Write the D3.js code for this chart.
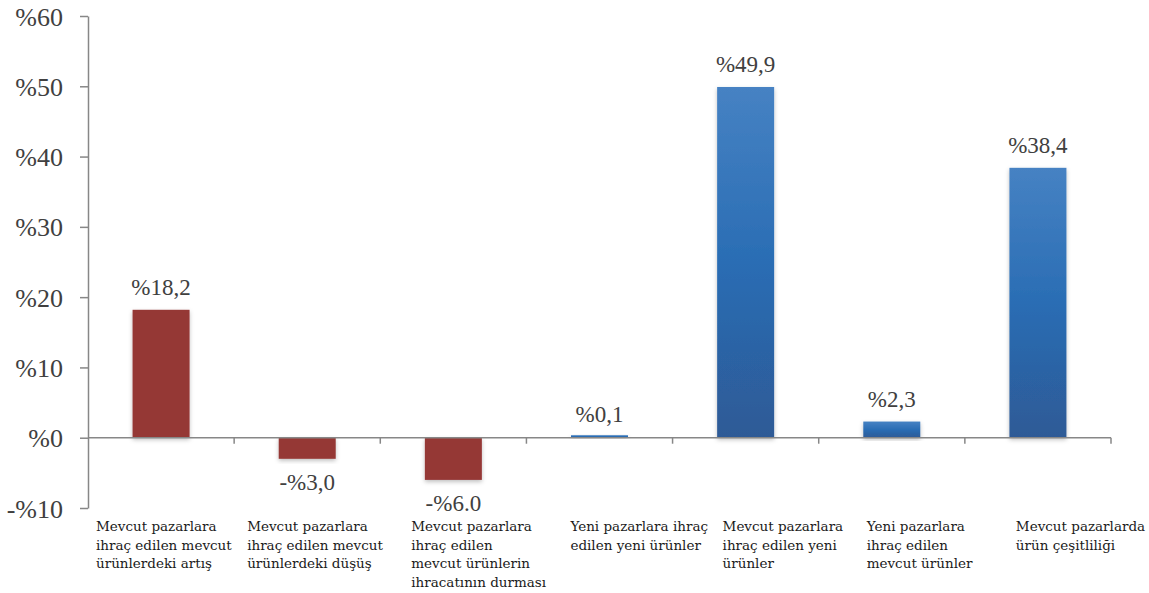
<!DOCTYPE html>
<html>
<head>
<meta charset="utf-8">
<script src="https://cdn.jsdelivr.net/npm/d3@7/dist/d3.min.js"></script>
<style>
  html, body { margin: 0; padding: 0; background: #fff; }
  svg { display: block; }
  .num { font-family: "Liberation Serif"; }
  .cat { font-family: "DejaVu Serif"; }
</style>
</head>
<body>
<svg id="chart" width="1149" height="593"></svg>
<script>
// Export strategy shares (percent)
const categories = [
  ["Mevcut pazarlara", "ihraç edilen mevcut", "ürünlerdeki artış"],
  ["Mevcut pazarlara", "ihraç edilen mevcut", "ürünlerdeki düşüş"],
  ["Mevcut pazarlara", "ihraç edilen", "mevcut ürünlerin", "ihracatının durması"],
  ["Yeni pazarlara ihraç", "edilen yeni ürünler"],
  ["Mevcut pazarlara", "ihraç edilen yeni", "ürünler"],
  ["Yeni pazarlara", "ihraç edilen", "mevcut ürünler"],
  ["Mevcut pazarlarda", "ürün çeşitliliği"]
];
const values = [18.2, -3.0, -6.0, 0.1, 49.9, 2.3, 38.4];
const valueLabels = ["%18,2", "-%3,0", "-%6.0", "%0,1", "%49,9", "%2,3", "%38,4"];
const yTicks = [-10, 0, 10, 20, 30, 40, 50, 60];
const yTickLabels = ["-%10", "%0", "%10", "%20", "%30", "%40", "%50", "%60"];
const barGroup = ["red", "red", "red", "blue", "blue", "blue", "blue"];

// Layout
const plotLeft = 88, plotRight = 1111, plotTop = 16, plotBottom = 508;
const labelOffsets = [8, 13, 31, 44, 50, 48, 51];
const axisColor = "#878787";
const textColor = "#404040";

const svg = d3.select("#chart");
const defs = svg.append("defs");

const grad = defs.append("linearGradient")
  .attr("id", "blueGrad").attr("x1", 0).attr("y1", 0).attr("x2", 0).attr("y2", 1);
grad.append("stop").attr("offset", "0%").attr("stop-color", "#4682c3");
grad.append("stop").attr("offset", "50%").attr("stop-color", "#2a6db4");
grad.append("stop").attr("offset", "100%").attr("stop-color", "#2e5a96");

const shadow = defs.append("filter").attr("id", "shadow")
  .attr("x", "-20%").attr("y", "-20%").attr("width", "140%").attr("height", "140%");
shadow.append("feDropShadow").attr("dx", 0).attr("dy", 2).attr("stdDeviation", 2)
  .attr("flood-color", "#000").attr("flood-opacity", 0.25);

const idx = d3.range(values.length);
const x = d3.scaleBand().domain(idx).range([plotLeft, plotRight])
  .paddingInner(0.61).paddingOuter(0.305);
const y = d3.scaleLinear().domain([-10, 60]).range([plotBottom, plotTop]);
const step = x.step();

// Y axis
const yAxis = d3.axisLeft(y).tickValues(yTicks).tickSize(8).tickSizeOuter(0)
  .tickFormat((d, i) => yTickLabels[i]);
const gy = svg.append("g").attr("transform", `translate(${plotLeft},0)`).call(yAxis);
gy.attr("font-family", null).attr("font-size", null);
gy.select(".domain").attr("stroke", axisColor).attr("stroke-width", 1.5);
gy.selectAll(".tick line").attr("stroke", axisColor).attr("stroke-width", 1.5);
gy.selectAll(".tick text")
  .attr("class", "num")
  .attr("x", -25)
  .attr("dy", "0.35em")
  .attr("fill", textColor)
  .style("font-size", "26px");

// Bars (thin bars keep a minimum visible height above/below zero)
const barH = v => Math.max(2.5, Math.abs(y(v) - y(0)));
svg.append("g").selectAll("rect").data(idx).join("rect")
  .attr("x", i => x(i))
  .attr("width", x.bandwidth())
  .attr("y", i => values[i] >= 0 ? y(0) - barH(values[i]) : y(0))
  .attr("height", i => barH(values[i]))
  .attr("fill", i => barGroup[i] === "blue" ? "url(#blueGrad)" : "#953735")
  .attr("filter", "url(#shadow)");

// Zero line with category boundary ticks
const gz = svg.append("g");
gz.append("line")
  .attr("x1", plotLeft).attr("x2", plotRight)
  .attr("y1", y(0)).attr("y2", y(0))
  .attr("stroke", axisColor).attr("stroke-width", 1.5);
gz.selectAll("line.bt").data(d3.range(1, values.length + 1)).join("line")
  .attr("class", "bt")
  .attr("x1", k => plotLeft + k * step).attr("x2", k => plotLeft + k * step)
  .attr("y1", y(0)).attr("y2", y(0) + 6)
  .attr("stroke", axisColor).attr("stroke-width", 1.5);

// Value labels
svg.append("g").selectAll("text").data(idx).join("text")
  .attr("class", "num")
  .attr("x", i => x(i) + x.bandwidth() / 2)
  .attr("y", i => values[i] >= 0 ? y(values[i]) - 15 : y(values[i]) + 31)
  .attr("text-anchor", "middle")
  .attr("fill", textColor)
  .style("font-size", "23px")
  .text(i => valueLabels[i]);

// Category labels
const cl = svg.append("g").selectAll("text").data(idx).join("text")
  .attr("class", "cat")
  .attr("x", i => plotLeft + i * step + labelOffsets[i])
  .attr("y", 531)
  .attr("fill", "#1a1a1a")
  .style("font-size", "13.5px");
cl.selectAll("tspan").data(i => categories[i].map(t => ({ t, i }))).join("tspan")
  .attr("x", d => plotLeft + d.i * step + labelOffsets[d.i])
  .attr("dy", (d, j) => j === 0 ? 0 : 18.5)
  .text(d => d.t);
</script>
</body>
</html>
